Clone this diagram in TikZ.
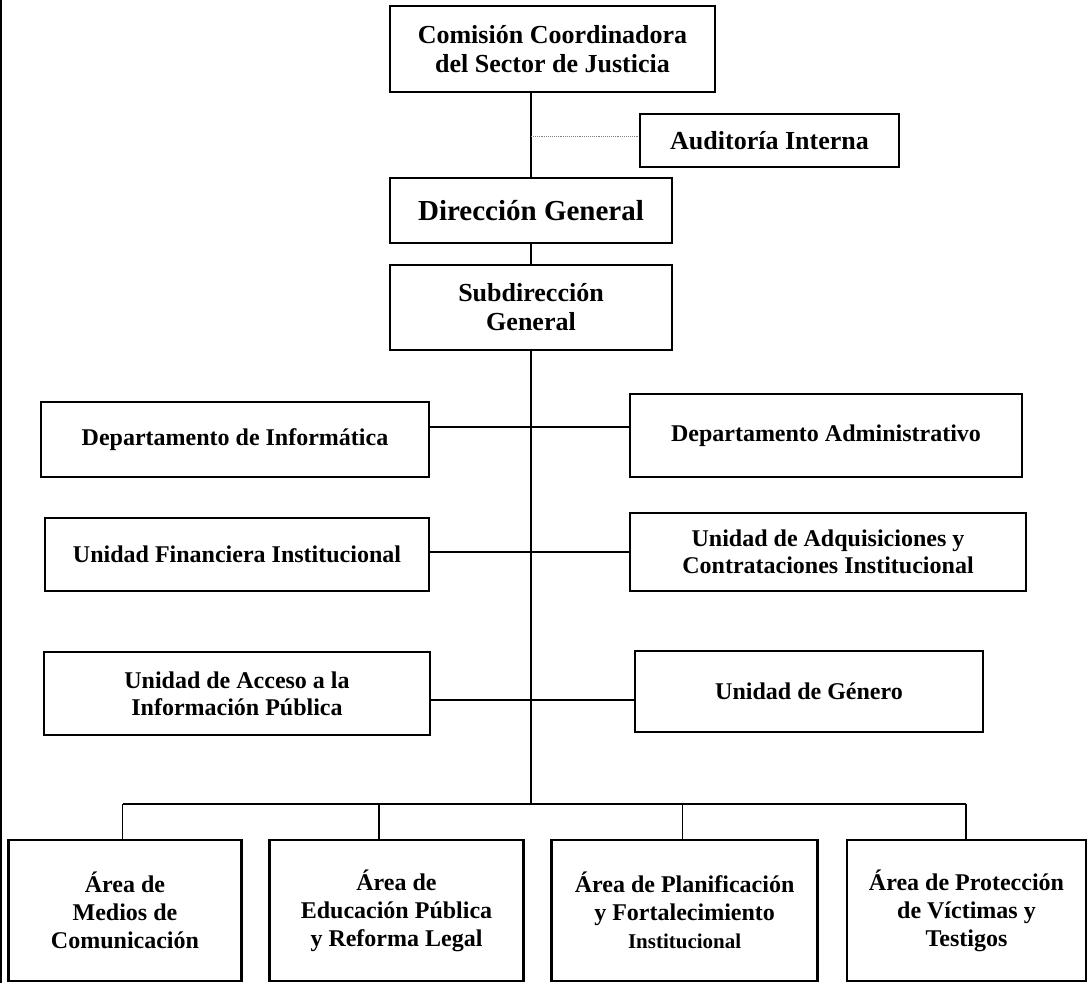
\documentclass[tikz,border=0pt]{standalone}
\usepackage{fontspec}
\setmainfont{Liberation Serif}
\begin{document}
\begin{tikzpicture}[x=1pt,y=-1pt,
  box/.style={draw, line width=1.8pt, align=center, inner sep=0pt},
  bigbox/.style={box, line width=2.6pt, minimum height=141pt, font=\fontsize{24}{28}\selectfont\bfseries},
  f26/.style={font=\fontsize{26}{29}\selectfont\bfseries},
  f24/.style={font=\fontsize{24}{27}\selectfont\bfseries},
  link/.style={line width=1.5pt},
  dots/.style={densely dotted, line width=0.9pt, gray}]
\useasboundingbox (0,0) rectangle (1092,983);
\draw[line width=2pt] (1,0) -- (1,983);

\node[box,f26,minimum width=325pt,minimum height=86pt] (com) at (552.5,49) {Comisión Coordinadora\\del Sector de Justicia};
\node[box,f26,minimum width=259pt,minimum height=53pt] (aud) at (769.5,140.5) {Auditoría Interna};
\node[box,font=\fontsize{29}{32}\selectfont\bfseries,minimum width=282pt,minimum height=65pt] (dir) at (531,210.5) {Dirección General};
\node[box,f26,minimum width=282pt,minimum height=85pt] (sub) at (531,307.5) {Subdirección\\General};

\node[box,f24,minimum width=388pt,minimum height=75pt] (inf) at (235,439.5) {Departamento de Informática};
\node[box,f24,minimum width=392pt,minimum height=83pt] (adm) at (826,435.5) {Departamento Administrativo};
\node[box,f24,minimum width=384pt,minimum height=73pt] (fin) at (237,554.5) {Unidad Financiera Institucional};
\node[box,f24,minimum width=396pt,minimum height=78pt] (adq) at (828,552) {Unidad de Adquisiciones y\\Contrataciones Institucional};
\node[box,f24,minimum width=386pt,minimum height=83pt] (acc) at (237,693.5) {Unidad de Acceso a la\\Información Pública};
\node[box,f24,minimum width=348pt,minimum height=81pt] (gen) at (809,691.5) {Unidad de Género};

\node[bigbox,minimum width=233pt] (a1) at (125,910.5) {Área de\\Medios de\\Comunicación};
\node[bigbox,minimum width=254pt] (a2) at (396.5,910.5) {Área de\\Educación Pública\\y Reforma Legal};
\node[bigbox,minimum width=266pt] (a3) at (684.6,910.5) {Área de Planificación\\y Fortalecimiento\\{\fontsize{21}{26}\selectfont Institucional}};
\node[bigbox,minimum width=239pt] (a4) at (966.5,910.5) {Área de Protección\\de Víctimas y\\Testigos};

\coordinate (ja) at (531,136);
\coordinate (j1) at (531,427);
\coordinate (j2) at (531,552);
\coordinate (j3) at (531,700);
\coordinate (bar) at (531,804);
\coordinate (d1) at (122.5,804);
\coordinate (d2) at (379,804);
\coordinate (d3) at (682.5,804);
\coordinate (d4) at (966,804);

\draw[link] (dir.north |- com.south) -- (dir.north);
\draw[dots] (ja) -- (aud.west |- ja);
\draw[link] (dir.south) -- (sub.north);
\draw[link] (sub.south) -- (bar);
\draw[link] (inf.east |- j1) -- (adm.west |- j1);
\draw[link] (fin.east |- j2) -- (adq.west |- j2);
\draw[link] (acc.east |- j3) -- (gen.west |- j3);
\draw[link, line width=2.2pt] (d1) -- (d4);
\draw[link] (d1) -- (d1 |- a1.north);
\draw[link] (d2) -- (d2 |- a2.north);
\draw[link] (d3) -- (d3 |- a3.north);
\draw[link] (d4) -- (d4 |- a4.north);
\end{tikzpicture}
\end{document}
